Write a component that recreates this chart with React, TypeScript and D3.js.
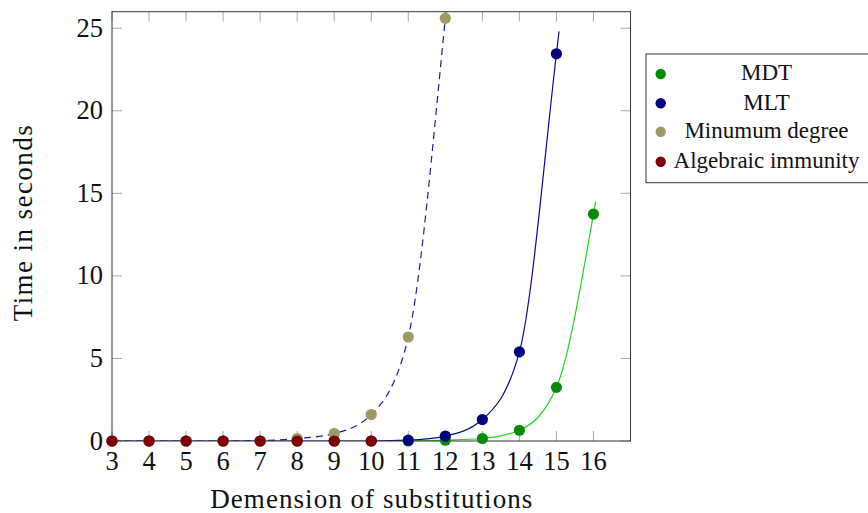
import React from "react";
import * as d3 from "d3";

const width = 868;
const height = 513;
const plot = { left: 112, right: 630.5, top: 11.7, bottom: 441 };

// marker series
const dims = [3, 4, 5, 6, 7, 8, 9, 10, 11, 12, 13, 14, 15, 16];
const mdtX = [11, 12, 13, 14, 15, 16];
const mdtY = [0.0, 0.05, 0.15, 0.65, 3.25, 13.74];
const mltX = [3, 4, 5, 6, 7, 8, 9, 10, 11, 12, 13, 14, 15];
const mltY = [0, 0, 0, 0, 0, 0, 0, 0, 0.05, 0.3, 1.3, 5.4, 23.45];
const minDegX = [3, 4, 5, 6, 7, 8, 9, 10, 11, 12];
const minDegY = [0, 0, 0, 0, 0, 0.15, 0.45, 1.6, 6.3, 25.6];
const algX = [3, 4, 5, 6, 7, 8, 9, 10];
const algY = [0, 0, 0, 0, 0, 0, 0, 0];

// curves (including the short run past the last mark)
const mdtCurveX = [11, 12, 13, 14, 15, 16, 16.06];
const mdtCurveY = [0.0, 0.05, 0.15, 0.65, 3.25, 13.74, 14.5];
const mltCurveX = [3, 4, 5, 6, 7, 8, 9, 10, 11, 12, 13, 14, 15, 15.07];
const mltCurveY = [0, 0, 0, 0, 0, 0, 0, 0, 0.05, 0.3, 1.3, 5.4, 23.45, 24.8];
const minDegCurveX = [3, 4, 5, 6, 7, 8, 9, 10, 11, 12, 12.04];
const minDegCurveY = [0, 0, 0, 0, 0.02, 0.15, 0.45, 1.6, 6.3, 25.6, 26.5];

const yTicks = [0, 5, 10, 15, 20, 25];

const legendLabels = ["MDT", "MLT", "Minumum degree", "Algebraic immunity"];
const markColors = ["#078a07", "#00007f", "#9f9965", "#7f0000"];

const font = "'Liberation Serif', 'DejaVu Serif', serif";

export default function App() {
  const x = d3.scaleLinear().domain([3, 17]).range([plot.left, plot.right]);
  const y = d3.scaleLinear().domain([0, 26]).range([plot.bottom, plot.top]);

  const line = d3
    .line<[number, number]>()
    .x((d) => x(d[0]))
    .y((d) => y(d[1]))
    .curve(d3.curveMonotoneX);

  const zip = (xs: number[], ys: number[]) => xs.map((v, i) => [v, ys[i]] as [number, number]);

  const markSeries = [
    zip(mdtX, mdtY),
    zip(mltX, mltY),
    zip(minDegX, minDegY),
    zip(algX, algY),
  ];

  const tickColor = "#a8a8a8";
  const rowY = [74, 103.3, 131.7, 161.7];

  return (
    <div style={{ position: "fixed", left: 0, top: 0 }}>
      <svg width={width} height={height} style={{ display: "block", background: "#fff" }}>
        <defs>
          <clipPath id="plotclip">
            <rect x={plot.left} y={plot.top} width={plot.right - plot.left} height={plot.bottom - plot.top} />
          </clipPath>
        </defs>

        {/* ticks inside, both sides */}
        {dims.map((d) => (
          <g key={"xt" + d}>
            <line x1={x(d)} x2={x(d)} y1={plot.bottom} y2={plot.bottom - 10} stroke={tickColor} />
            <line x1={x(d)} x2={x(d)} y1={plot.top} y2={plot.top + 10} stroke={tickColor} />
          </g>
        ))}
        {yTicks.map((t) => (
          <g key={"yt" + t}>
            <line x1={plot.left} x2={plot.left + 10} y1={y(t)} y2={y(t)} stroke={tickColor} />
            <line x1={plot.right} x2={plot.right - 10} y1={y(t)} y2={y(t)} stroke={tickColor} />
          </g>
        ))}

        {/* curves */}
        <g clipPath="url(#plotclip)" fill="none">
          <path d={line(zip(mdtCurveX, mdtCurveY)) || ""} stroke="#1ed41e" strokeWidth={1.2} />
          <path d={line(zip(mltCurveX, mltCurveY)) || ""} stroke="#0a0a8a" strokeWidth={1.2} />
          <path
            d={line(zip(minDegCurveX, minDegCurveY)) || ""}
            stroke="#1c1c9c"
            strokeWidth={1.2}
            strokeDasharray="7,5"
          />
        </g>

        {/* frame */}
        <rect
          x={plot.left}
          y={plot.top}
          width={plot.right - plot.left}
          height={plot.bottom - plot.top}
          fill="none"
          stroke="#333"
          strokeWidth={1}
        />

        {/* marks */}
        {markSeries.map((s, i) => (
          <g key={"m" + i} fill={markColors[i]}>
            {s.map((p, j) => (
              <circle key={j} cx={x(p[0])} cy={y(p[1])} r={5.6} />
            ))}
          </g>
        ))}

        {/* tick labels */}
        <g fontFamily={font} fontSize={26.5} fill="#111">
          {dims.map((d) => (
            <text key={"xl" + d} x={x(d)} y={470} textAnchor="middle">
              {d}
            </text>
          ))}
          {yTicks.map((t) => (
            <text key={"yl" + t} x={103} y={y(t) + 8.5} textAnchor="end">
              {t}
            </text>
          ))}
        </g>

        {/* axis titles */}
        <text
          x={(plot.left + plot.right) / 2}
          y={507.5}
          textAnchor="middle"
          fontFamily={font}
          fontSize={27}
          textLength={322}
          lengthAdjust="spacing"
          fill="#111"
        >
          Demension of substitutions
        </text>
        <text
          transform={`translate(32,${(plot.top + plot.bottom) / 2 - 3}) rotate(-90)`}
          textAnchor="middle"
          fontFamily={font}
          fontSize={27}
          textLength={196}
          lengthAdjust="spacing"
          fill="#111"
        >
          Time in seconds
        </text>

        {/* legend */}
        <rect x={646} y={54} width={240} height={128.7} fill="#fff" stroke="#333" strokeWidth={1} />
        {legendLabels.map((lab, i) => (
          <g key={lab}>
            <circle cx={660.7} cy={rowY[i]} r={5.2} fill={markColors[i]} />
            <text
              x={766.5}
              y={rowY[i] + 6.2}
              textAnchor="middle"
              fontFamily={font}
              fontSize={23}
              fill="#111"
            >
              {lab}
            </text>
          </g>
        ))}
      </svg>
    </div>
  );
}
